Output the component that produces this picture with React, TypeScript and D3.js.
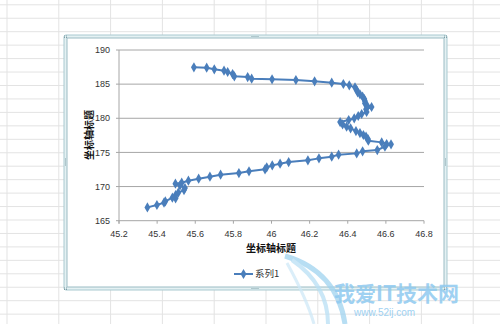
import React from "react";
import * as d3 from "d3";

const xValues = [
  45.593, 45.66, 45.70, 45.751, 45.77, 45.796, 45.805, 45.875, 45.896, 46.003,
  46.128, 46.226, 46.316, 46.377, 46.408, 46.438, 46.447, 46.452, 46.464, 46.478,
  46.487, 46.49, 46.49, 46.503, 46.525, 46.496, 46.499, 46.473, 46.455, 46.434,
  46.405, 46.36, 46.373, 46.394, 46.415, 46.443, 46.464, 46.482, 46.496, 46.506,
  46.508, 46.578, 46.604, 46.627, 46.595, 46.555, 46.478, 46.447, 46.352, 46.316,
  46.249, 46.191, 46.09, 46.045, 46.004, 45.975, 45.966, 45.882, 45.829, 45.733,
  45.677, 45.618, 45.564, 45.529, 45.496, 45.52, 45.546, 45.541, 45.511, 45.497,
  45.497, 45.48, 45.443, 45.436, 45.399, 45.349,
];
const yValues = [
  187.46, 187.41, 187.17, 186.97, 186.78, 186.48, 186.14, 186.04, 185.8, 185.7,
  185.61, 185.41, 185.21, 185.02, 184.82, 184.53, 184.14, 183.8, 183.51, 183.16,
  182.82, 182.53, 182.19, 181.8, 181.65, 181.31, 180.92, 180.63, 180.33, 179.99,
  179.75, 179.45, 179.11, 178.77, 178.53, 178.13, 177.84, 177.55, 177.3, 176.96,
  176.72, 176.47, 176.23, 176.18, 175.84, 175.35, 175.16, 174.86, 174.67, 174.38,
  174.13, 173.84, 173.59, 173.35, 173.1, 172.81, 172.52, 172.23, 171.98, 171.74,
  171.45, 171.15, 170.86, 170.57, 170.42, 170.17, 169.79, 169.49, 169.1, 168.76,
  168.27, 168.37, 167.83, 167.64, 167.3, 166.95,
];
const xTicks = [45.2, 45.4, 45.6, 45.8, 46, 46.2, 46.4, 46.6, 46.8];
const yTicks = [165, 170, 175, 180, 185, 190];
const seriesName = "系列1";
const axisTitle = "坐标轴标题";

const W = 500;
const H = 324;
const plotL = 119, plotR = 424, plotT = 50, plotB = 220.7;
const color = "#4a7ebb";

export default function App() {
  const x = d3.scaleLinear().domain([45.2, 46.8]).range([plotL, plotR]);
  const y = d3.scaleLinear().domain([165, 190]).range([plotB, plotT]);
  const pts: [number, number][] = xValues.map((v, i) => [x(v), y(yValues[i])]);
  const line = d3.line()(pts) || "";
  const diamond = d3.symbol().type(d3.symbolDiamond).size(30)() || "";

  const cols = d3.range(0, 10).map((i) => 7 + i * 51.8);
  const rows = d3.range(0, 24).map((i) => 4.8 + i * 13.45);

  const fx0 = 64, fy0 = 35, fx1 = 447, fy1 = 290;
  const ff = "'Liberation Sans', 'DejaVu Sans', sans-serif";
  const cjk = "'Noto Sans CJK SC', sans-serif";

  return (
    <svg width={W} height={H} style={{ position: "absolute", left: 0, top: 0 }}>
      <rect x={0} y={0} width={W} height={H} fill="#ffffff" />
      {/* spreadsheet grid */}
      {cols.map((c, i) => (
        <line key={"c" + i} x1={c} x2={c} y1={0} y2={H} stroke="#e3e3e3" strokeWidth={1} />
      ))}
      {rows.map((r, i) => (
        <line key={"r" + i} x1={0} x2={W} y1={r} y2={r} stroke="#e3e3e3" strokeWidth={1} />
      ))}
      {/* chart frame */}
      <rect x={fx0} y={fy0} width={fx1 - fx0} height={fy1 - fy0} fill="#e4f1f3" stroke="#a9c9d0" strokeWidth={1} rx={2} />
      <rect x={fx0 + 3} y={fy0 + 3} width={fx1 - fx0 - 6} height={fy1 - fy0 - 6} fill="#ffffff" stroke="#9bbcc4" strokeWidth={1} />
      {/* handles */}
      {[
        [fx0 + 1.5, fy0 + 1.5], [fx1 - 1.5, fy0 + 1.5], [fx0 + 1.5, fy1 - 1.5], [fx1 - 1.5, fy1 - 1.5],
      ].map(([hx, hy], i) => (
        <g key={"h" + i} fill="#7d9ea6">
          <rect x={hx - 1.5} y={hy - 1} width={1} height={1} />
          <rect x={hx + 0.5} y={hy - 1} width={1} height={1} />
          <rect x={hx - 1.5} y={hy + 0.5} width={1} height={1} />
          <rect x={hx + 0.5} y={hy + 0.5} width={1} height={1} />
        </g>
      ))}
      {[0, 1, 2, 3].map((i) => (
        <g key={"m" + i} fill="#7d9ea6">
          <rect x={(fx0 + fx1) / 2 - 4 + i * 2} y={fy0 + 1} width={1} height={1} />
          <rect x={(fx0 + fx1) / 2 - 4 + i * 2} y={fy1 - 2} width={1} height={1} />
          <rect x={fx0 + 1} y={(fy0 + fy1) / 2 - 4 + i * 2} width={1} height={1} />
          <rect x={fx1 - 2} y={(fy0 + fy1) / 2 - 4 + i * 2} width={1} height={1} />
        </g>
      ))}
      {/* gridlines */}
      {yTicks.map((t) => (
        <line key={"g" + t} x1={plotL - 3} x2={plotR} y1={y(t)} y2={y(t)} stroke="#a6a6a6" strokeWidth={1} />
      ))}
      {/* axes */}
      <line x1={plotL} x2={plotL} y1={plotT} y2={plotB + 3} stroke="#a6a6a6" strokeWidth={1} />
      {xTicks.map((t) => (
        <line key={"xt" + t} x1={x(t)} x2={x(t)} y1={plotB} y2={plotB + 3} stroke="#a6a6a6" strokeWidth={1} />
      ))}
      {yTicks.map((t) => (
        <text key={"yl" + t} x={plotL - 9} y={y(t)} dy="0.35em" textAnchor="end" fontFamily={ff} fontSize={9} fill="#333">
          {d3.format("")(t)}
        </text>
      ))}
      {xTicks.map((t) => (
        <text key={"xl" + t} x={x(t)} y={plotB + 13} dy="0.35em" textAnchor="middle" fontFamily={ff} fontSize={9} fill="#333">
          {String(t)}
        </text>
      ))}
      {/* axis titles */}
      <text x={271} y={248} dy="0.35em" textAnchor="middle" fontFamily={cjk} fontWeight="bold" fontSize={10} fill="#111">
        {axisTitle}
      </text>
      <text transform={`translate(89,135) rotate(-90)`} dy="0.35em" textAnchor="middle" fontFamily={cjk} fontWeight="bold" fontSize={10} fill="#111">
        {axisTitle}
      </text>
      {/* series */}
      <path d={line} fill="none" stroke={color} strokeWidth={2} strokeLinejoin="round" />
      {pts.map(([px, py], i) => (
        <path key={"p" + i} d={diamond} transform={`translate(${px},${py})`} fill={color} />
      ))}
      {/* legend */}
      <line x1={234} x2={253} y1={274} y2={274} stroke={color} strokeWidth={2} />
      <path d={diamond} transform="translate(243.5,274)" fill={color} />
      <text x={255} y={274} dy="0.35em" fontFamily={cjk} fontSize={9.5} fill="#333">
        {seriesName}
      </text>
      {/* watermark */}
      <g opacity={0.75}>
        <path d="M 285 256 C 320 266, 340 290, 345 324" fill="none" stroke="#9fd3f0" strokeWidth={5} />
        <path d="M 292 260 C 318 278, 328 300, 328 324" fill="none" stroke="#b9e0f5" strokeWidth={4} />
        <path d="M 287 263 C 298 283, 308 303, 314 324" fill="none" stroke="#cfe9f8" strokeWidth={3} />
      </g>
      <text x={334} y={301} fontFamily={cjk} fontWeight="bold" fontSize={21} fill="#8fcaf0" opacity={0.85}>
        我爱IT技术网
      </text>
      <text x={354} y={316} fontFamily={ff} fontSize={10} fill="#8fcaf0" opacity={0.85}>
        www.52ij.com
      </text>
    </svg>
  );
}
